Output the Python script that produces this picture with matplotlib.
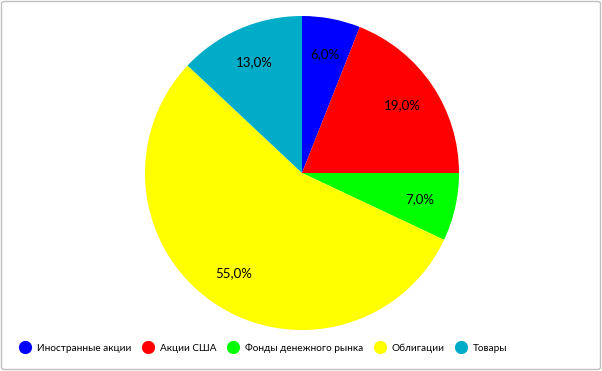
import matplotlib.pyplot as plt
from matplotlib.lines import Line2D
from matplotlib.patches import FancyBboxPatch

plt.rcParams['font.family'] = ['Lato', 'DejaVu Sans']

labels = ['Иностранные акции', 'Акции США', 'Фонды денежного рынка', 'Облигации', 'Товары']
values = [6.0, 19.0, 7.0, 55.0, 13.0]
colors = ['#0000FF', '#FF0000', '#00FF00', '#FFFF00', '#00ACC8']

W, H = 602, 371
fig = plt.figure(figsize=(W / 100, H / 100), dpi=100)

# рамка вокруг диаграммы
fig.patches.append(FancyBboxPatch((1.5 / W, 1.5 / H), 1 - 3 / W, 1 - 3 / H,
                                  boxstyle='round,pad=0,rounding_size=0.006',
                                  transform=fig.transFigure, fill=False,
                                  edgecolor='#BFBFBF', linewidth=1))

cx, cy, r = 302, 173, 157
ax = fig.add_axes([(cx - r) / W, 1 - (cy + r) / H, 2 * r / W, 2 * r / H])
wedges, texts, autotexts = ax.pie(values, colors=colors, startangle=90, counterclock=False,
                                  autopct=lambda p: f'{p:.1f}%'.replace('.', ','),
                                  pctdistance=0.77, radius=1,
                                  wedgeprops=dict(linewidth=0),
                                  textprops=dict(fontsize=9.5, color='black'))
ax.set_xlim(-1, 1)
ax.set_ylim(-1, 1)
ax.set_aspect('auto')

handles = [Line2D([], [], marker='o', linestyle='', markersize=8.5,
                  markerfacecolor=c, markeredgecolor=c) for c in colors]
fig.legend(handles, labels, loc='center left', bbox_to_anchor=(19 / W, 1 - 348 / H), ncol=5,
           frameon=False, fontsize=7.2, handletextpad=0.6, columnspacing=1.05,
           handlelength=1.2, borderaxespad=0, borderpad=0)

fig.savefig('out.png', dpi=100)
